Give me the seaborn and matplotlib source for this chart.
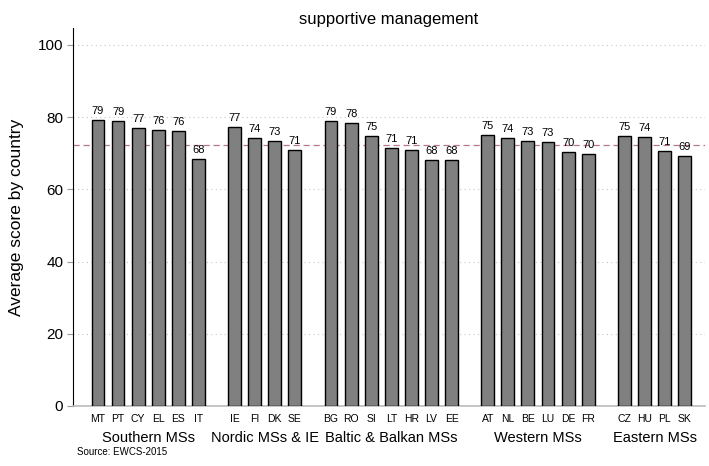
import numpy as np
import pandas as pd
import matplotlib
matplotlib.use("Agg")
import matplotlib.pyplot as plt
import seaborn as sns

groups = ["Southern MSs", "Nordic MSs & IE", "Baltic & Balkan MSs", "Western MSs", "Eastern MSs"]
southern = ["MT", "PT", "CY", "EL", "ES", "IT"]
southern_vals = [79.2, 78.8, 77.0, 76.4, 76.1, 68.3]
nordic = ["IE", "FI", "DK", "SE"]
nordic_vals = [77.2, 74.1, 73.4, 70.8]
baltic = ["BG", "RO", "SI", "LT", "HR", "LV", "EE"]
baltic_vals = [79.0, 78.4, 74.8, 71.4, 70.9, 68.1, 68.0]
western = ["AT", "NL", "BE", "LU", "DE", "FR"]
western_vals = [75.0, 74.1, 73.3, 73.1, 70.4, 69.8]
eastern = ["CZ", "HU", "PL", "SK"]
eastern_vals = [74.8, 74.4, 70.7, 69.1]
overall_mean = 72.2

country_lists = [southern, nordic, baltic, western, eastern]
value_lists = [southern_vals, nordic_vals, baltic_vals, western_vals, eastern_vals]

gap = 0.8
rows = []
i = 0
for g, (cs, vs) in enumerate(zip(country_lists, value_lists)):
    for c, v in zip(cs, vs):
        rows.append({"country": c, "value": v, "group": groups[g], "pos": i + g * gap})
        i += 1
df = pd.DataFrame(rows)

sns.set_style("white", {"text.color": "black", "axes.labelcolor": "black",
                        "xtick.color": "black", "ytick.color": "black"})
plt.rcParams["font.family"] = ["Liberation Sans", "DejaVu Sans"]

fig = plt.figure(figsize=(7.09, 4.66), dpi=100)
ax = fig.add_axes([0.103, 0.129, 0.891, 0.811])

sns.barplot(data=df, x="pos", y="value", native_scale=True, width=0.64,
            color="#808080", saturation=1, edgecolor="black", linewidth=1.0,
            errorbar=None, ax=ax, zorder=3)

ax.set_ylim(0, 104.7)
ax.set_xlim(-1.24, 30.2)
ax.set_yticks([0, 20, 40, 60, 80, 100])
ax.set_yticklabels(["0", "20", "40", "60", "80", "100"], fontsize=11)
ax.yaxis.grid(True, linestyle=(0, (1, 3)), color="#c8c8c8", linewidth=0.8)
ax.set_axisbelow(True)

ax.set_xticks(df["pos"])
ax.set_xticklabels(df["country"], fontsize=7.5)
ax.tick_params(axis="x", length=0, pad=6, labelcolor="black")
ax.tick_params(axis="y", length=4, color="#999999", width=0.8, left=True, pad=3, labelcolor="black")

for s in ["top", "right"]:
    ax.spines[s].set_visible(False)
ax.spines["left"].set_color("black")
ax.spines["left"].set_linewidth(0.8)
ax.spines["bottom"].set_color("#bbbbbb")
ax.spines["bottom"].set_linewidth(1.2)

for cont in ax.containers:
    ax.bar_label(cont, fmt="%.0f", fontsize=8, padding=3, color="black")

ax.axhline(overall_mean, color="#b87592", linestyle=(0, (5, 3)), linewidth=0.9, zorder=2)

ax.set_xlabel("")
ax.set_ylabel("Average score by country", fontsize=12.5, labelpad=10, color="black")
ax.set_title("supportive management", fontsize=12, pad=3, color="black")

for g in groups:
    sub = df[df["group"] == g]
    center = (sub["pos"].min() + sub["pos"].max()) / 2
    ax.text(center, -0.085, g, transform=ax.get_xaxis_transform(),
            ha="center", va="center", fontsize=10.5, color="black")

fig.text(0.108, 0.02, "Source: EWCS-2015", fontsize=7, ha="left", va="bottom", color="black")

fig.savefig("out.png", dpi=100)
